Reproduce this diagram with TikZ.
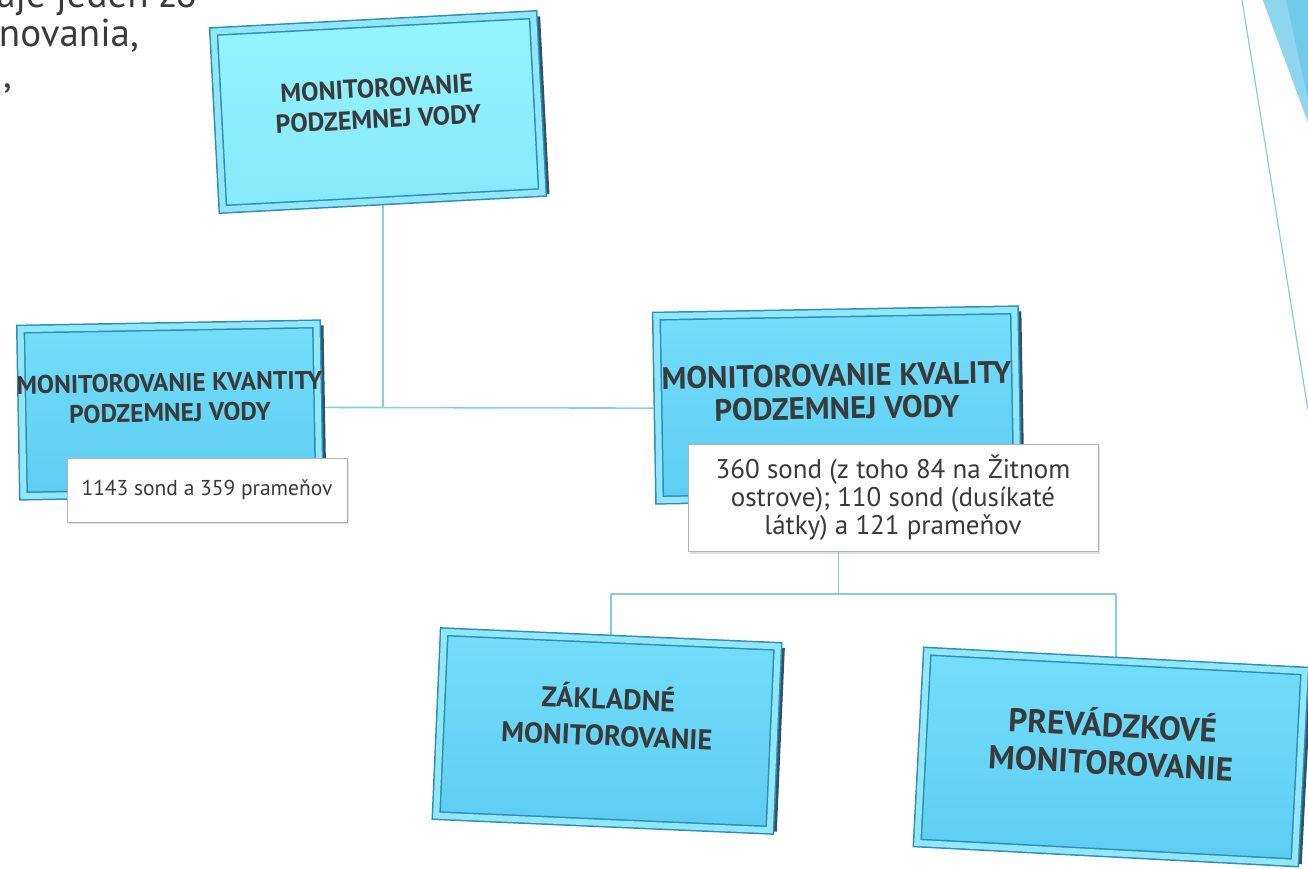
\documentclass[tikz,border=0pt]{standalone}
\usepackage{fontspec}
\setmainfont{PT Sans}
\usepackage{xcolor}
\usetikzlibrary{positioning, shadows, backgrounds}
\definecolor{boxTop}{HTML}{74DEFA}
\definecolor{boxBottom}{HTML}{5CCDF2}
\definecolor{rootTop}{HTML}{96F4FE}
\definecolor{rootBottom}{HTML}{86E8FB}
\definecolor{bevelEdge}{HTML}{2B8FB3}
\definecolor{bevelLight}{HTML}{92E6F9}
\definecolor{bevelDark}{HTML}{1B4052}
\definecolor{linkBlue}{HTML}{86CDE3}
\definecolor{textGray}{HTML}{3A3A3A}
\definecolor{decoBlue}{HTML}{72C9EA}
\definecolor{decoLight}{HTML}{8ED6EF}
\tikzset{mon-box/.style 2 args={draw=bevelEdge, line width=1.5pt, double=bevelLight, double distance=6pt,
    top color=boxTop, bottom color=boxBottom, text=textGray,
    font=\fontsize{#1}{#2}\selectfont\bfseries,
    drop shadow={shadow xshift=7pt, shadow yshift=-1.5pt, fill=bevelDark, opacity=0.9}}}
\tikzset{root-box/.style={top color=rootTop, bottom color=rootBottom}}
\tikzset{info-box/.style={draw=black!30, line width=1pt, fill=white, align=center, text=textGray,
    drop shadow={shadow xshift=2pt, shadow yshift=-2pt, opacity=0.25}}}
\tikzset{mon-link/.style={draw=linkBlue, line width=1.6pt}}
\tikzset{intro-text/.style={text=textGray, font=\fontsize{39}{42}\selectfont, inner sep=0pt}}
\newcommand{\monlines}[2][0pt]{\makebox[0pt]{\begin{tabular}{@{}c@{}}#2\\[#1]\end{tabular}}}

\begin{document}
\begin{tikzpicture}[x=1pt, y=-1pt]
    \useasboundingbox (0,0) rectangle (1308,869);

    % what is left of the slide text
    \node[intro-text, anchor=base east] (introA) at (197,8) {aje jeden zo};
    \node[intro-text, anchor=base east] (introB) at (139,47) {novania,};
    \node[intro-text, anchor=base west] (introC) at (3,88) {,};

    % corner decoration
    \fill[decoBlue] (1263,0) -- (1308,0) -- (1308,122) -- cycle;
    \fill[decoLight] (1263,0) -- (1286,0) -- (1308,100) -- (1308,122) -- cycle;
    \draw[linkBlue, line width=1.2pt] (1242,0) -- (1308,410);

    % boxes
    \node[mon-box={26}{31}, root-box, rotate=3, minimum width=320pt, minimum height=178pt]
        (root) at (378,112) {\monlines[11pt]{MONITOROVANIE\\PODZEMNEJ VODY}};
    \node[mon-box={25.5}{30}, rotate=1, minimum width=296pt, minimum height=167pt]
        (kvantita) at (170,410) {\monlines[19pt]{MONITOROVANIE KVANTITY\\PODZEMNEJ VODY}};
    \node[mon-box={31}{33}, rotate=1, minimum width=358pt, minimum height=184pt]
        (kvalita) at (837,405) {\monlines[18pt]{MONITOROVANIE KVALITY\\PODZEMNEJ VODY}};
    \node[mon-box={28.5}{37}, rotate=-2.5, minimum width=334pt, minimum height=184pt]
        (zakladne) at (607,731) {\monlines[22pt]{ZÁKLADNÉ\\MONITOROVANIE}};
    \node[mon-box={33}{38}, rotate=-3, minimum width=378pt, minimum height=192pt]
        (prevadzka) at (1111,757) {\monlines[20pt]{PREVÁDZKOVÉ\\MONITOROVANIE}};

    % counts
    \node[info-box, font=\fontsize{21.5}{26}\selectfont, minimum width=280pt, minimum height=64pt]
        (kvantitaInfo) at (207,490) {1143 sond a 359 prameňov};
    \node[info-box, font=\fontsize{27}{28}\selectfont, minimum width=410pt, minimum height=107pt]
        (kvalitaInfo) at (893,498) {360 sond (z toho 84 na Žitnom\\ostrove); 110 sond (dusíkaté\\látky) a 121 prameňov};

    \coordinate[below=42pt of kvalitaInfo.south] (split);

    \begin{scope}[on background layer]
        \draw[mon-link] (root.south) -- (root.south |- kvantita.east);
        \draw[mon-link] (kvantita.east) -- (kvalita.west);
        \draw[mon-link] (kvalita.south) -- (kvalita.south |- split);
        \draw[mon-link] (zakladne.north |- split) -- (prevadzka.north |- split);
        \draw[mon-link] (zakladne.north |- split) -- (zakladne.north);
        \draw[mon-link] (prevadzka.north |- split) -- (prevadzka.north);
    \end{scope}
\end{tikzpicture}
\end{document}
